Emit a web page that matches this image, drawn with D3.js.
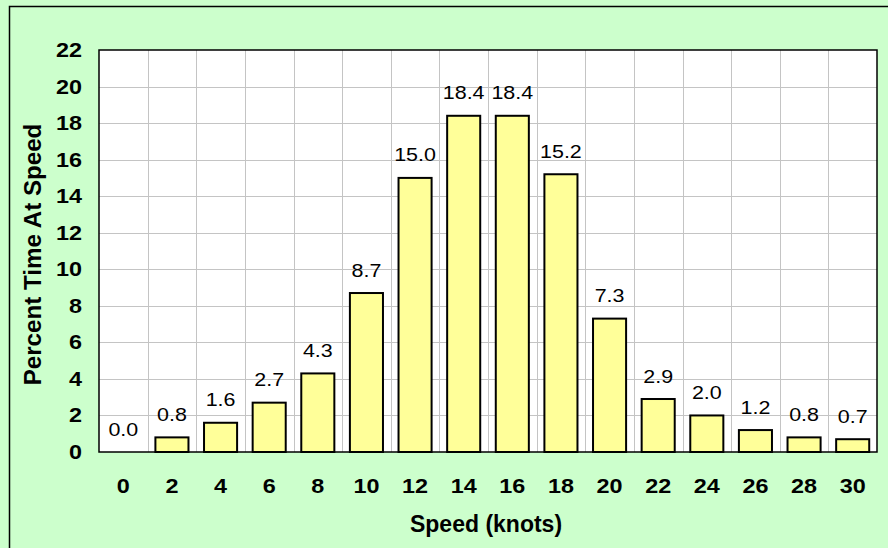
<!DOCTYPE html>
<html><head><meta charset="utf-8">
<script src="https://cdn.jsdelivr.net/npm/d3@7"></script>
<style>html,body{margin:0;padding:0;background:#ccffcc;overflow:hidden}</style>
</head><body>
<svg id="c" width="888" height="548"></svg>
<script>
const speeds = ["0","2","4","6","8","10","12","14","16","18","20","22","24","26","28","30"];
const percents = [0.0,0.8,1.6,2.7,4.3,8.7,15.0,18.4,18.4,15.2,7.3,2.9,2.0,1.2,0.8,0.7];
const yTicks = [0,2,4,6,8,10,12,14,16,18,20,22];
const xTitle = "Speed (knots)";
const yTitle = "Percent Time At Speed";

const svg = d3.select("#c");
const W = 888, H = 548;
const m = {left: 99, top: 50, right: 877, bottom: 452};
const FONT = "'Liberation Sans', Arial, Helvetica, sans-serif";

svg.append("rect").attr("x",0).attr("y",0).attr("width",W).attr("height",H).attr("fill","#ccffcc");
svg.append("rect").attr("x",9.5).attr("y",6.5).attr("width",W+20).attr("height",H+20)
  .attr("fill","#ccffcc").attr("stroke","#000").attr("stroke-width",1.5);

const x = d3.scaleBand().domain(speeds).range([m.left, m.right]).paddingInner(0.32).paddingOuter(0.16);
const y = d3.scaleLinear().domain([0,22]).range([m.bottom, m.top]);

svg.append("rect").attr("x",m.left).attr("y",m.top).attr("width",m.right-m.left).attr("height",m.bottom-m.top).attr("fill","#fff");

// gridlines
const g = svg.append("g");
g.selectAll("line.h").data(yTicks.slice(1,-1)).join("line")
  .attr("x1",m.left).attr("x2",m.right).attr("y1",d=>Math.round(y(d))+0.5).attr("y2",d=>Math.round(y(d))+0.5)
  .attr("stroke","#c4c4c4").attr("stroke-width",1);
const step = x.step();
g.selectAll("line.v").data(speeds.slice(1)).join("line")
  .attr("x1",d=>Math.round(x(d)-x.paddingInner()*step/2)+0.5).attr("x2",d=>Math.round(x(d)-x.paddingInner()*step/2)+0.5)
  .attr("y1",m.top).attr("y2",m.bottom).attr("stroke","#c4c4c4").attr("stroke-width",1);

// bars
svg.append("g").selectAll("rect").data(percents).join("rect")
  .attr("x",(d,i)=>x(speeds[i])).attr("width",x.bandwidth())
  .attr("y",d=>y(d)).attr("height",d=>y(0)-y(d))
  .attr("fill","#ffff99").attr("stroke","#000").attr("stroke-width",2);

// plot border
svg.append("rect").attr("x",m.left).attr("y",m.top).attr("width",m.right-m.left).attr("height",m.bottom-m.top)
  .attr("fill","none").attr("stroke","#000").attr("stroke-width",1.5);

// value labels
svg.append("g").selectAll("text").data(percents).join("text")
  .attr("transform",(d,i)=>`translate(${x(speeds[i])+x.bandwidth()/2},${y(d)-16.5}) scale(1.16,1)`)
  .attr("text-anchor","middle").attr("font-family",FONT).attr("font-size",18.5).attr("fill","#000")
  .text(d=>d3.format(".1f")(d));

// x tick labels
svg.append("g").selectAll("text").data(speeds).join("text")
  .attr("transform",d=>`translate(${x(d)+x.bandwidth()/2},${492.5}) scale(1.2,1)`)
  .attr("text-anchor","middle").attr("font-family",FONT).attr("font-weight","bold").attr("font-size",19.5)
  .text(d=>d);

// y tick labels
svg.append("g").selectAll("text").data(yTicks).join("text")
  .attr("transform",d=>`translate(82,${y(d)+7}) scale(1.2,1)`)
  .attr("text-anchor","end").attr("font-family",FONT).attr("font-weight","bold").attr("font-size",19.5)
  .text(d=>d);

// axis titles
svg.append("text").attr("transform",`translate(${486},532) scale(1.0,1)`)
  .attr("text-anchor","middle").attr("font-family",FONT).attr("font-weight","bold").attr("font-size",23)
  .text(xTitle);
svg.append("text").attr("transform",`translate(40.5,${254.5}) rotate(-90) scale(1.05,1)`)
  .attr("text-anchor","middle").attr("font-family",FONT).attr("font-weight","bold").attr("font-size",23)
  .text(yTitle);
</script>
</body></html>
